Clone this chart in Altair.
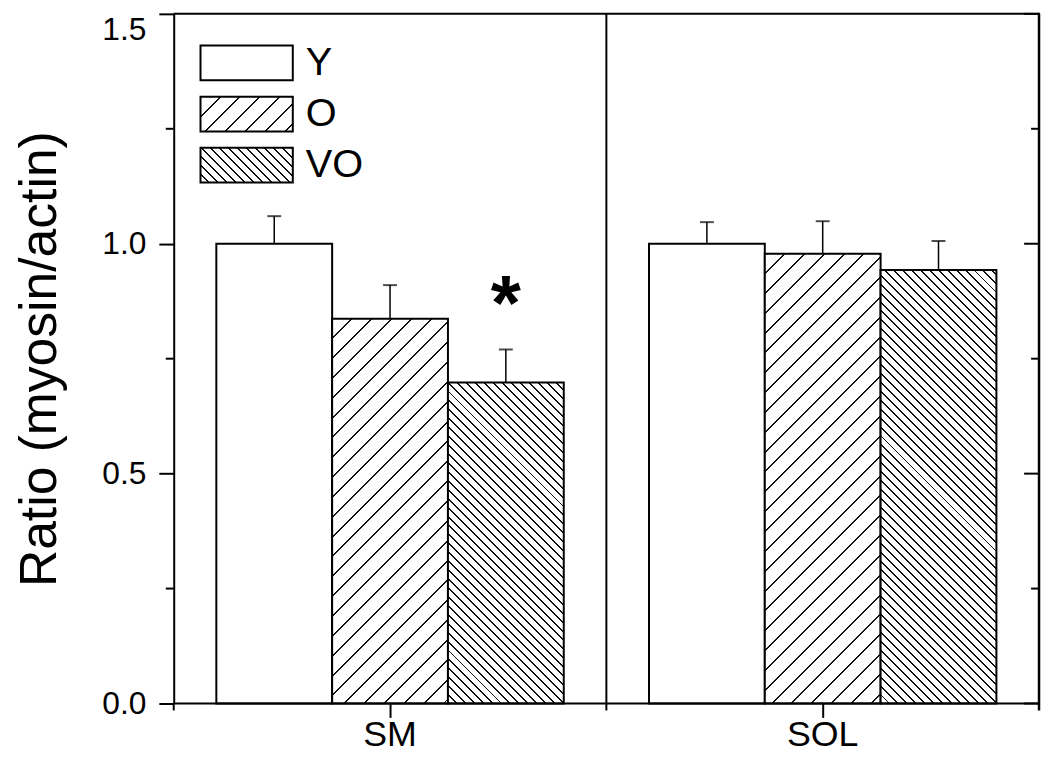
import math
import altair as alt
import pandas as pd

# ---------------- data ----------------
categories = ["SM", "SOL"]
series = ["Y", "O", "VO"]
mean_Y = [1.000, 1.000]
mean_O = [0.837, 0.978]
mean_VO = [0.698, 0.943]
sem_Y = [0.060, 0.047]
sem_O = [0.073, 0.071]
sem_VO = [0.072, 0.063]
signif_Y = ["", ""]
signif_O = ["", ""]
signif_VO = ["*", ""]
y_major = [0.0, 0.5, 1.0, 1.5]
y_minor = [0.25, 0.75, 1.25]
y_title = "Ratio (myosin/actin)"

# ---------------- layout / style ----------------
W, H = 872, 695
YMAX = 1.5
FONT = "Liberation Sans"
OUTER = 0.368
GROUP_W = W / len(categories)
BAR_W = GROUP_W / (len(series) + 2 * OUTER)
HATCH = {"Y": None, "O": ("/", 20, 1.4), "VO": ("\\", 9, 1.4)}

rows = []
for s, means, sems, sig in zip(series, [mean_Y, mean_O, mean_VO],
                               [sem_Y, sem_O, sem_VO],
                               [signif_Y, signif_O, signif_VO]):
    for c, m, e, g in zip(categories, means, sems, sig):
        rows.append({"group": c, "series": s, "mean": m, "sem": e, "sig": g})
df = pd.DataFrame(rows)


def hatch_fill(w, h, spec):
    """Linear gradient with hard stops that looks like a diagonal hatch."""
    if spec is None:
        return "white"
    kind, period, lw = spec
    L = w + h
    s = L / (w * w + h * h)
    if kind == "/":
        x1, y1, x2, y2 = 0, 0, s * w, s * h
    else:
        x1, y1, x2, y2 = 0, 1, s * w, 1 - s * h
    half = lw * math.sqrt(2) / 2 / L
    ink = "#111111"
    stops = [alt.GradientStop(offset=0, color="white")]
    k = 1
    while True:
        c = k * period / L
        if c - half >= 1:
            break
        a = max(c - half, 0.0)
        b = min(c + half, 1.0)
        stops += [alt.GradientStop(offset=a, color="white"),
                  alt.GradientStop(offset=a, color=ink),
                  alt.GradientStop(offset=b, color=ink),
                  alt.GradientStop(offset=b, color="white")]
        k += 1
    stops.append(alt.GradientStop(offset=1, color="white"))
    return alt.LinearGradient(gradient="linear", stops=stops,
                              x1=x1, y1=y1, x2=x2, y2=y2)


Y_SCALE = alt.Scale(domain=[0, YMAX], nice=False, zero=True)
Y_AXIS = alt.Axis(values=y_major, format=".1f", grid=False,
                  tickSize=15, tickWidth=2, tickColor="black",
                  domainWidth=2, domainColor="black",
                  labelFontSize=32, labelPadding=13, labelColor="black", labelFont=FONT,
                  labelOffset={"condition": {"test": "datum.value >= 1.5", "value": 16}, "value": 0},
                  title=y_title, titleFont=FONT, titleFontSize=52, titleFontWeight="normal",
                  titleColor="black", titleX=-119, titleY=H / 2,
                  titleBaseline="alphabetic", titleAngle=270)
X_ENC = alt.X("group:N", sort=categories,
              scale=alt.Scale(domain=categories, paddingInner=0, paddingOuter=0),
              axis=alt.Axis(title=None, labelFontSize=36, labelFont=FONT, labelColor="black",
                            labelAngle=0, tickSize=14, tickWidth=2, tickColor="black",
                            domain=False, labelPadding=0, grid=False))
XO_ENC = alt.XOffset("series:N", sort=series,
                     scale=alt.Scale(domain=series, paddingInner=0, paddingOuter=OUTER))


def yq(field):
    return alt.Y(field, scale=Y_SCALE, axis=Y_AXIS)


layers = []

# bars
for s, means in zip(series, [mean_Y, mean_O, mean_VO]):
    for c, m in zip(categories, means):
        fill = hatch_fill(BAR_W, m / YMAX * H, HATCH[s])
        layers.append(
            alt.Chart(df)
            .transform_filter(f"datum.group == '{c}' && datum.series == '{s}'")
            .mark_bar(fill=fill, stroke="black", strokeWidth=2)
            .encode(x=X_ENC, xOffset=XO_ENC, y=yq("mean:Q"))
        )

one = alt.Data(values=[{"k": 0}])

# frame: top, bottom, right, divider, bottom ticks
layers.append(alt.Chart(one).mark_rule(color="black", strokeWidth=2)
              .encode(x=alt.value(0), x2=alt.value(W + 1), y=alt.value(0)))
layers.append(alt.Chart(one).mark_rule(color="black", strokeWidth=2)
              .encode(x=alt.value(0), x2=alt.value(W + 1), y=alt.value(H)))
layers.append(alt.Chart(one).mark_rule(color="black", strokeWidth=2.5)
              .encode(x=alt.value(W), y=alt.value(0), y2=alt.value(H + 7)))
layers.append(alt.Chart(one).mark_rule(color="black", strokeWidth=2)
              .encode(x=alt.value(W / 2), y=alt.value(0), y2=alt.value(H + 7)))
layers.append(alt.Chart(one).mark_rule(color="black", strokeWidth=2)
              .encode(x=alt.value(0), y=alt.value(H), y2=alt.value(H + 7)))

# minor ticks (left, outward) and right ticks (inward)
minor_df = pd.DataFrame({"v": y_minor})
major_df = pd.DataFrame({"v": y_major})
layers.append(alt.Chart(minor_df).mark_rule(color="black", strokeWidth=2)
              .encode(y=yq("v:Q"), x=alt.value(-8), x2=alt.value(0)))
layers.append(alt.Chart(minor_df).mark_rule(color="black", strokeWidth=2)
              .encode(y=yq("v:Q"), x=alt.value(W - 8), x2=alt.value(W)))
layers.append(alt.Chart(major_df).mark_rule(color="black", strokeWidth=2)
              .encode(y=yq("v:Q"), x=alt.value(W - 15), x2=alt.value(W)))

# error bars (upper only)
err = alt.Chart(df).transform_calculate(upper="datum.mean + datum.sem")
layers.append(err.mark_rule(color="black", strokeWidth=1.5)
              .encode(x=X_ENC, xOffset=XO_ENC, y=yq("mean:Q"), y2="upper:Q"))
layers.append(err.mark_tick(color="black", thickness=2, size=14)
              .encode(x=X_ENC, xOffset=XO_ENC, y=yq("upper:Q")))
# significance marks
layers.append(err.mark_text(font=FONT, fontSize=78, fontWeight="bold", color="black",
                            baseline="alphabetic", align="center", dy=-20)
              .encode(x=X_ENC, xOffset=XO_ENC, y=yq("upper:Q"), text="sig:N"))

# legend
for i, s in enumerate(series):
    top = 32 + 51.5 * i
    layers.append(alt.Chart(one)
                  .mark_rect(fill=hatch_fill(93, 35, HATCH[s]), stroke="black", strokeWidth=2)
                  .encode(x=alt.value(27), x2=alt.value(120),
                          y=alt.value(top), y2=alt.value(top + 35)))
    layers.append(alt.Chart(one)
                  .mark_text(text=s, font=FONT, fontSize=40, color="black",
                             align="left", baseline="alphabetic")
                  .encode(x=alt.value(133), y=alt.value(62 + 51 * i)))

chart = (
    alt.layer(*layers)
    .properties(width=W, height=H,
                autosize=alt.AutoSizeParams(type="none"),
                padding={"left": 167, "top": 3, "right": 3, "bottom": 51},
                background="white")
    .configure_view(strokeWidth=0)
)

chart.save("out.html", embed_options={"renderer": "svg", "actions": False})
